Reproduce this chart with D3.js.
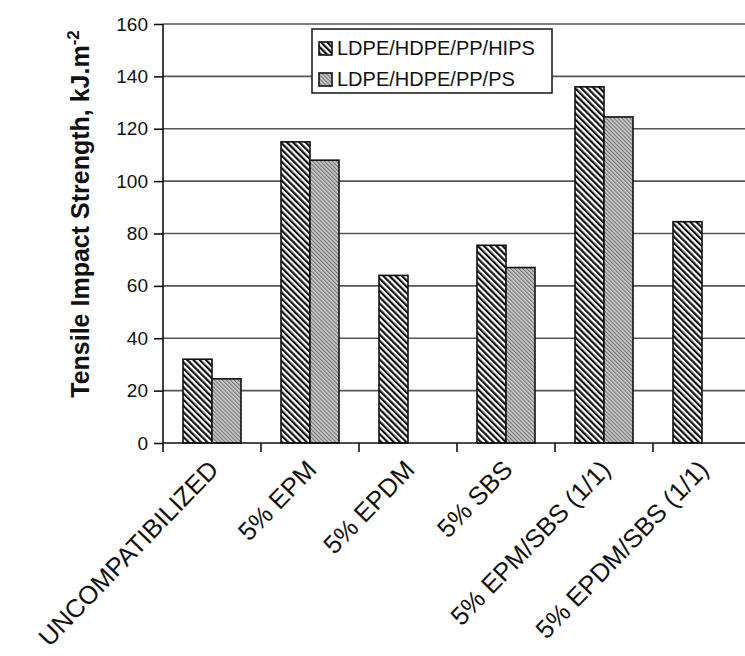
<!DOCTYPE html>
<html>
<head>
<meta charset="utf-8">
<script src="https://cdn.jsdelivr.net/npm/d3@7"></script>
<style>
  body { margin: 0; background: #fff; }
  svg { font-family: Arial, "Liberation Sans", sans-serif; }
</style>
</head>
<body>
<div id="vis"></div>
<script>
const categories = ["UNCOMPATIBILIZED", "5% EPM", "5% EPDM", "5% SBS", "5% EPM/SBS (1/1)", "5% EPDM/SBS (1/1)"];
const seriesNames = ["LDPE/HDPE/PP/HIPS", "LDPE/HDPE/PP/PS"];
const hipsValues = [32, 115, 64, 75.5, 136, 84.5];
const psValues = [24.5, 108, null, 67, 124.5, null];
const yTicks = [0, 20, 40, 60, 80, 100, 120, 140, 160];

const W = 745, H = 656;
const plot = {left: 163, top: 24, bottom: 443, right: 751};

const svg = d3.select("#vis").append("svg")
    .attr("width", W)
    .attr("height", H);

const defs = svg.append("defs");

// black/white backslash hatch
const p1 = defs.append("pattern")
    .attr("id", "hatchA")
    .attr("patternUnits", "userSpaceOnUse")
    .attr("width", 4.4).attr("height", 4.4)
    .attr("patternTransform", "rotate(-45)");
p1.append("rect").attr("width", 4.4).attr("height", 4.4).attr("fill", "#fff");
p1.append("rect").attr("width", 2.2).attr("height", 4.4).attr("fill", "#111");

// grey fine hatch
const p2 = defs.append("pattern")
    .attr("id", "hatchB")
    .attr("patternUnits", "userSpaceOnUse")
    .attr("width", 2.8).attr("height", 2.8)
    .attr("patternTransform", "rotate(-45)");
p2.append("rect").attr("width", 2.8).attr("height", 2.8).attr("fill", "#cdcdcd");
p2.append("rect").attr("width", 1.1).attr("height", 2.8).attr("fill", "#707070");

const fills = ["url(#hatchA)", "url(#hatchB)"];

const x = d3.scaleBand()
    .domain(categories)
    .range([plot.left, plot.right])
    .padding(0);

const xInner = d3.scaleBand()
    .domain(seriesNames)
    .range([20, 78])
    .padding(0);

const y = d3.scaleLinear()
    .domain([0, 160])
    .range([plot.bottom, plot.top]);

// grid lines
svg.append("g")
    .selectAll("line")
    .data(yTicks.filter(d => d > 0))
    .enter()
    .append("line")
    .attr("x1", plot.left)
    .attr("x2", W)
    .attr("y1", d => y(d))
    .attr("y2", d => y(d))
    .attr("stroke", "#555")
    .attr("stroke-width", 1.6);

// bars
const rows = [];
categories.forEach((c, i) => {
    [hipsValues[i], psValues[i]].forEach((v, j) => {
        if (v !== null) rows.push({cat: c, series: seriesNames[j], idx: j, value: v});
    });
});

svg.append("g")
    .selectAll("rect")
    .data(rows)
    .enter()
    .append("rect")
    .attr("x", d => x(d.cat) + xInner(d.series))
    .attr("y", d => y(d.value))
    .attr("width", xInner.bandwidth())
    .attr("height", d => y(0) - y(d.value))
    .attr("fill", d => fills[d.idx])
    .attr("stroke", "#111")
    .attr("stroke-width", 1.6);

// y axis
const yAxis = svg.append("g")
    .attr("transform", `translate(${plot.left},0)`)
    .call(d3.axisLeft(y).tickValues(yTicks).tickSize(9).tickSizeOuter(0).tickPadding(6));
yAxis.select(".domain").attr("stroke", "#111").attr("stroke-width", 1.6)
    .attr("d", `M0,${plot.top}V${plot.bottom + 9}`);
yAxis.selectAll(".tick line").attr("stroke", "#111").attr("stroke-width", 1.6);
yAxis.selectAll(".tick text")
    .style("font-size", "19px")
    .attr("fill", "#111");

// x axis line and ticks at band boundaries
svg.append("line")
    .attr("x1", plot.left).attr("x2", W)
    .attr("y1", plot.bottom).attr("y2", plot.bottom)
    .attr("stroke", "#111").attr("stroke-width", 1.6);

svg.append("g")
    .selectAll("line")
    .data(categories.slice(1))
    .enter()
    .append("line")
    .attr("x1", d => x(d)).attr("x2", d => x(d))
    .attr("y1", plot.bottom).attr("y2", plot.bottom + 9)
    .attr("stroke", "#111").attr("stroke-width", 1.6);

// x labels
svg.append("g")
    .selectAll("text")
    .data(categories)
    .enter()
    .append("text")
    .attr("transform", d => `translate(${x(d) + x.bandwidth() / 2 + 8},471) rotate(-46)`)
    .attr("text-anchor", "end")
    .style("font-size", "25.5px")
    .attr("fill", "#111")
    .text(d => d);

// y title
const yt = svg.append("text")
    .attr("transform", `translate(89,214) rotate(-90)`)
    .attr("text-anchor", "middle")
    .style("font-size", "25px")
    .style("font-weight", "bold")
    .attr("fill", "#111");
yt.append("tspan").text("Tensile Impact Strength, kJ.m");
yt.append("tspan").attr("dy", -10).style("font-size", "17px").text("-2");

// legend
const lg = svg.append("g").attr("transform", "translate(312,29)");
lg.append("rect")
    .attr("width", 240).attr("height", 64)
    .attr("fill", "#fff").attr("stroke", "#222").attr("stroke-width", 1.6);
seriesNames.forEach((s, i) => {
    const row = lg.append("g").attr("transform", `translate(7,${19 + i * 31})`);
    row.append("rect")
        .attr("x", 0).attr("y", -6)
        .attr("width", 13).attr("height", 13)
        .attr("fill", fills[i]).attr("stroke", "#111").attr("stroke-width", 1.6);
    row.append("text")
        .attr("x", 18).attr("y", 7)
        .style("font-size", "20px")
        .attr("fill", "#111")
        .text(s);
});
</script>
</body>
</html>
